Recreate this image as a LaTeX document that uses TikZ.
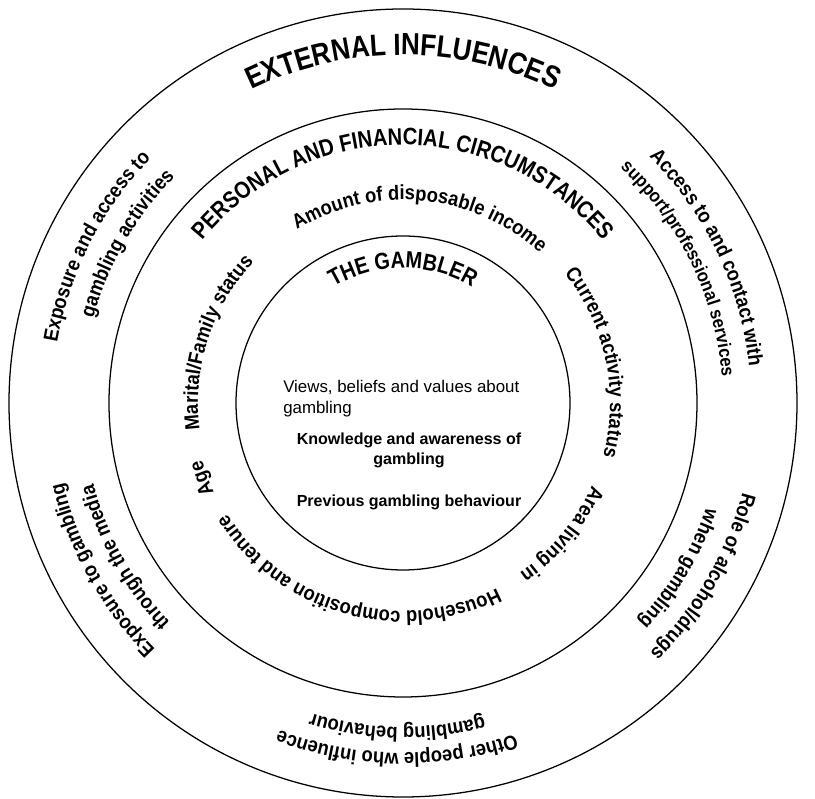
\documentclass[tikz,border=0pt]{standalone}
\usepackage{fontspec}
\setmainfont{Liberation Sans}
\newfontfamily\narrowsans[FakeStretch=0.85]{Liberation Sans}
\newfontfamily\ringsans[FakeStretch=0.9]{Liberation Sans}
\usetikzlibrary{decorations.text}

\newcommand\outerhead{\narrowsans\bfseries\fontsize{21.8}{26}\selectfont}
\newcommand\middlehead{\narrowsans\bfseries\fontsize{16.9}{20}\selectfont}
\newcommand\innerhead{\narrowsans\bfseries\fontsize{16.6}{20}\selectfont}
\newcommand\ringfont{\ringsans\bfseries\fontsize{14.5}{17}\selectfont}
\newcommand\smallringfont{\ringsans\bfseries\fontsize{13.2}{16}\selectfont}

\begin{document}
\begin{tikzpicture}[
    x=0.025cm, y=0.025cm,
    ring/.style={draw=black, line width=0.9pt},
    heading/.style={decorate, decoration={text along path, text align=center, text={#1}}},
    ringtext/.style={decorate, decoration={text along path, text align=center, text={|\ringfont|#1}}},
    viewsbox/.style={font=\fontsize{12}{14.9}\selectfont, align=left, inner sep=0pt},
    factbox/.style={font=\bfseries\fontsize{11.4}{14.2}\selectfont, align=center, inner sep=0pt}
]
\useasboundingbox (-403,-396) rectangle (412,403);

% The three rings
\coordinate (c) at (0,0);
\draw[ring] (c) circle[radius=394];
\draw[ring] (c) circle[radius=294];
\draw[ring] (c) circle[radius=167];

% Ring headings
\path[heading={|\outerhead|EXTERNAL INFLUENCES}] (150:348) arc[start angle=150, end angle=30, radius=348];
\path[heading={|\middlehead|PERSONAL AND FINANCIAL CIRCUMSTANCES}] (160:258) arc[start angle=160, end angle=20, radius=258];
\path[heading={|\innerhead|THE GAMBLER}] (150:135) arc[start angle=150, end angle=30, radius=135];

% Outer ring: external influences
\path[ringtext={Exposure and access to}] (213:351) arc[start angle=213, end angle=93, radius=351];
\path[ringtext={gambling activities}] (210:321) arc[start angle=210, end angle=90, radius=321];
\path[ringtext={Access to and contact with}] (85.5:348) arc[start angle=85.5, end angle=-34.5, radius=348];
\path[heading={|\smallringfont|support/professional services}] (86:320) arc[start angle=86, end angle=-34, radius=320];
\path[ringtext={Exposure to gambling}] (269:349) arc[start angle=269, end angle=149, radius=349];
\path[ringtext={through the media}] (269:320) arc[start angle=269, end angle=149, radius=320];
\path[ringtext={Role of alcohol/drugs}] (30:351) arc[start angle=30, end angle=-90, radius=351];
\path[ringtext={when gambling}] (29:321) arc[start angle=29, end angle=-91, radius=321];
\path[ringtext={Other people who influence}] (-31:350) arc[start angle=-31, end angle=-151, radius=350];
\path[ringtext={gambling behaviour}] (-31:324) arc[start angle=-31, end angle=-151, radius=324];

% Middle ring: personal and financial circumstances
\path[ringtext={Amount of disposable income}] (144.5:203) arc[start angle=144.5, end angle=24.5, radius=203];
\path[ringtext={Marital/Family status}] (222:205) arc[start angle=222, end angle=102, radius=205];
\path[ringtext={Age}] (260.5:209) arc[start angle=260.5, end angle=140.5, radius=209];
\path[ringtext={Current activity status}] (72:207) arc[start angle=72, end angle=-48, radius=207];
\path[ringtext={Area living in}] (20.5:206) arc[start angle=20.5, end angle=-99.5, radius=206];
\path[ringtext={Household composition and tenure}] (-45.5:208) arc[start angle=-45.5, end angle=-165.5, radius=208];

% Inner circle: the gambler
\node[viewsbox, anchor=north west] (views) at (-120,23) {Views, beliefs and values about\\gambling};
\node[factbox, anchor=north] (knowledge) at (6,-30) {Knowledge and awareness of\\gambling};
\node[factbox, anchor=base] (previous) at (6,-104) {Previous gambling behaviour};

\end{tikzpicture}
\end{document}
